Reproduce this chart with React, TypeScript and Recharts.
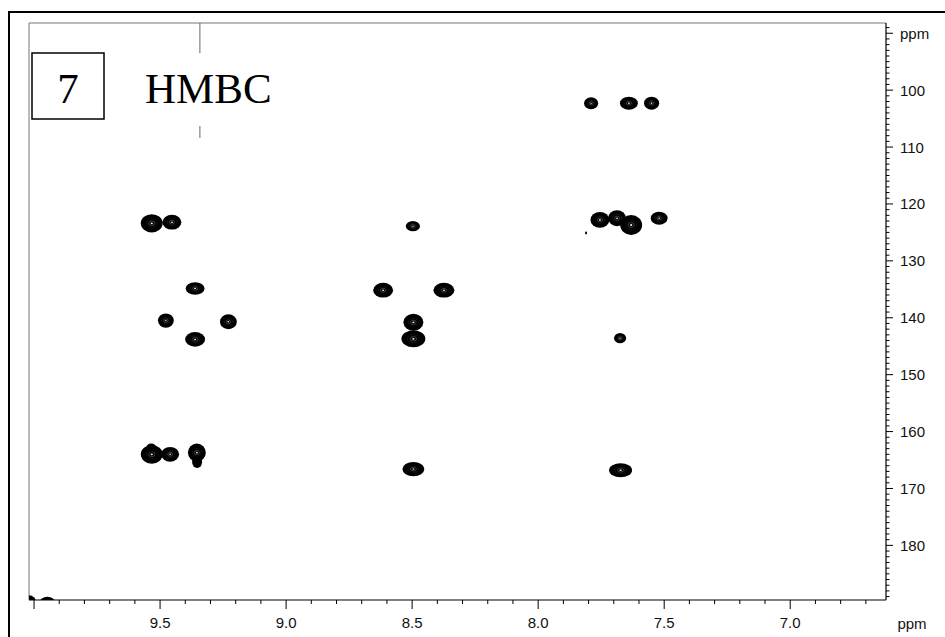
import React from 'react';
import { ScatterChart, Scatter, XAxis, YAxis, ReferenceLine } from 'recharts';

// Spectral window (ppm)
const H_MIN = 6.62;
const H_MAX = 10.02;
const C_MIN = 88.2;
const C_MAX = 189.6;

// Cross peaks: 1H shift, 13C shift, and footprint along each dimension (ppm)
const protonShifts = [
  7.79, 7.64, 7.55, 7.755, 7.687, 7.631, 7.52, 9.533, 9.453, 8.497,
  9.361, 9.477, 9.229, 9.361, 8.615, 8.374, 8.495, 8.495, 7.675,
  9.533, 9.535, 9.46, 9.354, 9.353, 8.495, 7.673, 10.02, 9.947, 7.81,
];
const carbonShifts = [
  102.3, 102.3, 102.3, 122.8, 122.5, 123.7, 122.5, 123.4, 123.2, 123.9,
  134.85, 140.5, 140.7, 143.8, 135.15, 135.15, 140.8, 143.7, 143.6,
  164.0, 162.9, 164.0, 163.7, 165.3, 166.6, 166.8, 190.0, 190.1, 125.1,
];
const protonWidths = [
  0.056, 0.071, 0.06, 0.075, 0.071, 0.087, 0.067, 0.087, 0.075, 0.056,
  0.075, 0.063, 0.067, 0.079, 0.079, 0.083, 0.079, 0.095, 0.048,
  0.087, 0.04, 0.071, 0.071, 0.04, 0.087, 0.091, 0.055, 0.063, 0.008,
];
const carbonWidths = [
  2.1, 2.3, 2.3, 2.8, 2.8, 3.5, 2.3, 3.2, 2.6, 1.8,
  2.2, 2.5, 2.6, 2.6, 2.6, 2.6, 3.0, 3.0, 1.8,
  3.3, 1.6, 2.6, 3.2, 2.2, 2.5, 2.5, 2.5, 2.1, 0.5,
];

// Axis ticks
const xMajorTicks = [10.0, 9.5, 9.0, 8.5, 8.0, 7.5, 7.0];
const xMajorLabels = ['', '9.5', '9.0', '8.5', '8.0', '7.5', '7.0'];
const yMajorTicks = [90, 100, 110, 120, 130, 140, 150, 160, 170, 180];
const yMajorLabels = ['ppm', '100', '110', '120', '130', '140', '150', '160', '170', '180'];

// Projection marker on the 1H axis
const MARK_H = 9.342;
const markSegments = [
  [C_MIN, 93.5],
  [106.3, 108.4],
];

const xMinorTicks: number[] = [];
for (let i = 67; i <= 100; i++) xMinorTicks.push(i / 10);
const yMinorTicks: number[] = [];
for (let i = 89; i <= 189; i++) yMinorTicks.push(i);

const W = 945;
const H = 637;
const PLOT_LEFT = 29;
const PLOT_TOP = 23;
const Y_AXIS_W = 59;
const X_AXIS_H = 37;
const PLOT_W = W - PLOT_LEFT - Y_AXIS_W;
const PLOT_H = H - PLOT_TOP - X_AXIS_H;
const PX_H = PLOT_W / (H_MAX - H_MIN);
const PX_C = PLOT_H / (C_MAX - C_MIN);

const peaks = protonShifts.map((h, i) => ({
  h,
  c: carbonShifts[i],
  dh: protonWidths[i],
  dc: carbonWidths[i],
}));

const FONT = '"Liberation Sans", Arial, Helvetica, sans-serif';

const near = (a: number, b: number) => Math.abs(a - b) < 1e-6;

const XTick = (props: any) => {
  const { x, y, payload } = props;
  const idx = xMajorTicks.findIndex((t) => near(t, payload.value));
  const major = idx >= 0;
  return (
    <g>
      <line x1={x} x2={x} y1={y} y2={y + (major ? 9 : 4)} stroke="#000" strokeWidth={1} />
      {major && xMajorLabels[idx] ? (
        <text x={x} y={y + 28} textAnchor="middle" fontFamily={FONT} fontSize={15} fill="#111">
          {xMajorLabels[idx]}
        </text>
      ) : null}
    </g>
  );
};

const YTick = (props: any) => {
  const { x, y, payload } = props;
  const idx = yMajorTicks.findIndex((t) => near(t, payload.value));
  const major = idx >= 0;
  return (
    <g>
      <line x1={x} x2={x + (major ? 7 : 3.5)} y1={y} y2={y} stroke="#000" strokeWidth={1} />
      {major ? (
        <text x={x + 14} y={y + 5.5} textAnchor="start" fontFamily={FONT} fontSize={15} fill="#111">
          {yMajorLabels[idx]}
        </text>
      ) : null}
    </g>
  );
};

// Contour-style cross peak: dense black outer contours with faint inner rings
const PeakShape = (props: any) => {
  const { cx, cy, payload } = props;
  if (cx == null || cy == null || !payload) return null;
  const rx = (payload.dh * PX_H) / 2;
  const ry = (payload.dc * PX_C) / 2;
  if (rx < 6 || ry < 5) {
    return <ellipse cx={cx} cy={cy} rx={Math.max(rx, 1)} ry={Math.max(ry, 1.2)} fill="#000" />;
  }
  return (
    <g>
      <ellipse cx={cx} cy={cy} rx={rx} ry={ry} fill="#000" />
      <ellipse cx={cx} cy={cy} rx={rx * 0.5} ry={ry * 0.45} fill="none" stroke="#222" strokeWidth={0.5} />
      <ellipse cx={cx} cy={cy} rx={rx * 0.28} ry={ry * 0.25} fill="none" stroke="#777" strokeWidth={0.5} />
      <ellipse cx={cx} cy={cy} rx={Math.min(1.2, rx * 0.1)} ry={Math.min(0.9, ry * 0.1)} fill="#eee" />
    </g>
  );
};

export default function App() {
  return (
    <div style={{ position: 'absolute', left: 0, top: 0, width: W, height: H, background: '#fff', overflow: 'hidden' }}>
      <div
        style={{
          position: 'absolute',
          left: 8,
          top: 11,
          width: W - 8,
          height: H - 11,
          borderTop: '2px solid #000',
          borderLeft: '2px solid #000',
          boxSizing: 'border-box',
        }}
      />
      <div style={{ position: 'absolute', left: 0, top: 0 }}>
        <ScatterChart width={W} height={H} margin={{ top: PLOT_TOP, left: PLOT_LEFT, right: 0, bottom: 0 }}>
          <XAxis
            type="number"
            dataKey="h"
            domain={[H_MIN, H_MAX]}
            reversed
            allowDataOverflow
            ticks={xMinorTicks}
            interval={0}
            tickSize={0}
            tickMargin={0}
            tickLine={false}
            tick={<XTick />}
            height={X_AXIS_H}
            axisLine={{ stroke: '#000', strokeWidth: 1.2 }}
          />
          <YAxis
            type="number"
            dataKey="c"
            orientation="right"
            domain={[C_MIN, C_MAX]}
            reversed
            allowDataOverflow
            ticks={yMinorTicks}
            interval={0}
            tickSize={0}
            tickMargin={0}
            tickLine={false}
            tick={<YTick />}
            width={Y_AXIS_W}
            axisLine={{ stroke: '#000', strokeWidth: 1.2 }}
          />
          <ReferenceLine y={C_MIN} stroke="#777" strokeWidth={1} />
          <ReferenceLine x={H_MAX} stroke="#777" strokeWidth={1} />
          {markSegments.map((s, i) => (
            <ReferenceLine
              key={i}
              segment={[
                { x: MARK_H, y: s[0] },
                { x: MARK_H, y: s[1] },
              ]}
              stroke="#666"
              strokeWidth={1}
            />
          ))}
          <Scatter data={peaks} shape={<PeakShape />} isAnimationActive={false} />
        </ScatterChart>
      </div>
      <svg
        width={W}
        height={H}
        style={{ position: 'absolute', left: 0, top: 0, pointerEvents: 'none' }}
      >
        <rect x={32} y={53} width={72} height={66} fill="#fff" stroke="#000" strokeWidth={1.5} />
        <text x={68} y={103} textAnchor="middle" fontFamily='"Liberation Serif", "Times New Roman", serif' fontSize={43} fill="#000">
          7
        </text>
        <text x={145} y={103} textAnchor="start" fontFamily='"Liberation Serif", "Times New Roman", serif' fontSize={43} fill="#000">
          HMBC
        </text>
        <text x={912} y={628.5} textAnchor="middle" fontFamily={FONT} fontSize={15} fill="#111">
          ppm
        </text>
      </svg>
    </div>
  );
}
